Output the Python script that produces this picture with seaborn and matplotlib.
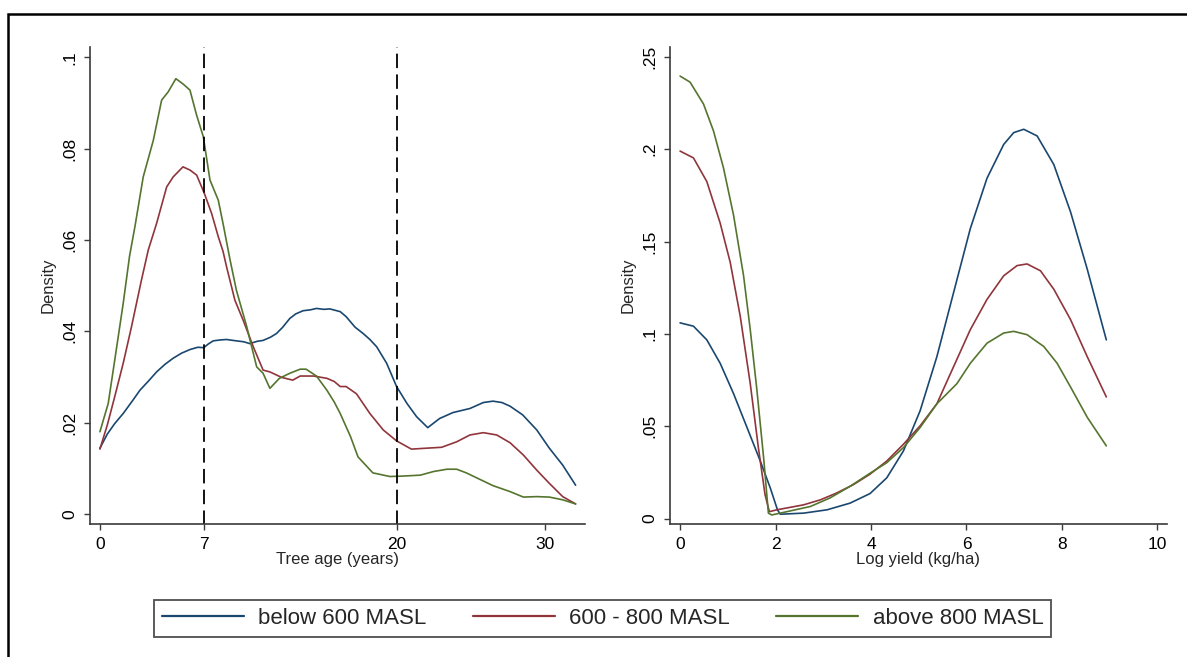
import matplotlib
matplotlib.use("Agg")
import matplotlib.pyplot as plt
import pandas as pd
import seaborn as sns
from matplotlib.patches import Rectangle

# --- data (kernel density curves) ---
GROUPS = ["below 600 MASL", "600 - 800 MASL", "above 800 MASL"]
COLORS = ["#1a476f", "#90353b", "#55752f"]

# Tree age densities
age_x_low = [0, 0.5, 1.0, 1.57, 2.2, 2.7, 3.3, 3.82, 4.4, 4.94, 5.5, 6.07, 6.6, 7.0, 7.3, 7.64,
             8.1, 8.54, 9.2, 9.7, 10.1, 10.6, 11.0, 11.5, 11.9, 12.3, 12.8, 13.2, 13.7, 14.2,
             14.6, 15.1, 15.5, 16.2, 16.6, 17.2, 17.75, 18.2, 18.66, 19.33, 20.0, 20.7, 21.35,
             22.1, 22.9, 23.8, 24.95, 25.85, 26.5, 27.1, 27.65, 28.5, 29.45, 30.3, 31.2, 32.07]
age_y_low = [0.0144, 0.0175, 0.0198, 0.022, 0.0248, 0.0271, 0.0292, 0.0311, 0.0328, 0.0341,
             0.0352, 0.036, 0.0365, 0.0364, 0.0372, 0.0379, 0.0381, 0.0382, 0.0379, 0.0377,
             0.0373, 0.0378, 0.038, 0.0387, 0.0395, 0.0408, 0.0428, 0.0438, 0.0445, 0.0447,
             0.045, 0.0448, 0.0449, 0.0443, 0.0432, 0.0409, 0.0395, 0.0382, 0.0366, 0.033,
             0.0279, 0.0242, 0.0213, 0.0189, 0.0209, 0.0222, 0.0231, 0.0244, 0.0247, 0.0244,
             0.0236, 0.0217, 0.0184, 0.0144, 0.0107, 0.0063]

age_x_mid = [0, 0.5, 1.0, 1.57, 2.13, 2.8, 3.26, 3.82, 4.5, 4.94, 5.3, 5.6, 6.07, 6.52, 7.04,
             7.53, 7.98, 8.3, 8.54, 9.1, 9.66, 10.34, 11.0, 11.46, 12.25, 13.0, 13.5, 14.4,
             15.3, 15.8, 16.2, 16.6, 17.3, 18.2, 19.1, 20.0, 21.0, 22.0, 23.04, 24.05, 24.95,
             25.85, 26.75, 27.65, 28.55, 29.45, 30.3, 31.2, 32.07]
age_y_mid = [0.0142, 0.0195, 0.0257, 0.033, 0.041, 0.0512, 0.0578, 0.0636, 0.0716, 0.0738,
             0.075, 0.076, 0.0753, 0.0742, 0.0702, 0.0658, 0.0607, 0.0575, 0.0541, 0.0468,
             0.0424, 0.0366, 0.0315, 0.0311, 0.0299, 0.0293, 0.0302, 0.0302, 0.0297, 0.029,
             0.0279, 0.0279, 0.0263, 0.022, 0.0184, 0.016, 0.0142, 0.0144, 0.0146, 0.0158,
             0.0173, 0.0178, 0.0173, 0.0156, 0.0129, 0.0096, 0.0067, 0.0038, 0.0022]

age_x_high = [0, 0.56, 1.0, 1.57, 2.0, 2.36, 2.92, 3.6, 4.16, 4.6, 5.12, 5.62, 6.07, 6.52, 6.97,
              7.42, 7.98, 8.3, 8.77, 9.2, 9.9, 10.2, 10.57, 11.0, 11.46, 12.1, 12.8, 13.5,
              13.9, 14.6, 15.3, 15.8, 16.2, 16.9, 17.4, 18.4, 19.55, 20.45, 21.6, 22.5, 23.4,
              24.05, 24.7, 25.6, 26.5, 27.65, 28.55, 29.45, 30.3, 31.2, 32.07]
age_y_high = [0.018, 0.0242, 0.0337, 0.0461, 0.0565, 0.0629, 0.0738, 0.0818, 0.0906, 0.0924,
              0.0953, 0.0941, 0.0928, 0.0873, 0.0826, 0.0731, 0.0687, 0.0636, 0.0557, 0.049,
              0.041, 0.037, 0.0322, 0.0308, 0.0275, 0.0297, 0.0308, 0.0317, 0.0317, 0.0302,
              0.0271, 0.0245, 0.022, 0.0169, 0.0125, 0.009, 0.0082, 0.0083, 0.0085, 0.0093,
              0.0098, 0.0098, 0.009, 0.0076, 0.0062, 0.0049, 0.0037, 0.0038, 0.0037, 0.0031,
              0.0022]

# Log yield densities
yld_x_low = [0, 0.28, 0.56, 0.84, 1.12, 1.4, 1.68, 1.89, 2.04, 2.1, 2.59, 3.08, 3.56, 3.98,
             4.33, 4.68, 5.03, 5.38, 5.73, 6.08, 6.43, 6.78, 6.99, 7.2, 7.48, 7.83, 8.18,
             8.53, 8.93]
yld_y_low = [0.106, 0.1042, 0.0968, 0.0841, 0.0677, 0.0495, 0.0312, 0.0166, 0.0048, 0.0024,
             0.003, 0.0048, 0.0084, 0.0136, 0.0221, 0.0367, 0.0585, 0.0877, 0.1224, 0.157,
             0.1843, 0.2026, 0.209, 0.2108, 0.2072, 0.1917, 0.1661, 0.1351, 0.0968]

yld_x_mid = [0, 0.28, 0.56, 0.84, 1.05, 1.26, 1.47, 1.64, 1.78, 1.87, 2.03, 2.59, 2.94, 3.28,
             3.63, 3.98, 4.33, 4.68, 5.03, 5.38, 5.73, 6.08, 6.43, 6.78, 7.06, 7.27, 7.55,
             7.83, 8.18, 8.53, 8.93]
yld_y_mid = [0.199, 0.1953, 0.1825, 0.16, 0.1388, 0.1096, 0.0731, 0.0385, 0.013, 0.0038,
             0.0048, 0.0075, 0.0102, 0.0139, 0.0184, 0.0241, 0.0312, 0.0403, 0.0503, 0.0622,
             0.0823, 0.1023, 0.1187, 0.1315, 0.137, 0.1379, 0.1342, 0.1242, 0.1078, 0.0877,
             0.0659]

yld_x_high = [0, 0.21, 0.49, 0.7, 0.91, 1.12, 1.33, 1.47, 1.61, 1.75, 1.85, 1.92, 2.24, 2.73,
              3.14, 3.56, 3.98, 4.33, 4.68, 5.03, 5.38, 5.8, 6.08, 6.43, 6.78, 6.99, 7.27,
              7.62, 7.9, 8.18, 8.53, 8.93]
yld_y_high = [0.2396, 0.2363, 0.2245, 0.2099, 0.1898, 0.1643, 0.1315, 0.1023, 0.0695, 0.033,
              0.003, 0.002, 0.0038, 0.0066, 0.0112, 0.0175, 0.0246, 0.0303, 0.0385, 0.0494,
              0.0622, 0.0731, 0.0841, 0.095, 0.1005, 0.1014, 0.0996, 0.0932, 0.0841, 0.0713,
              0.0549, 0.0394]

age_ticks = [0, 7, 20, 30]
age_cutoffs = [7, 20]
age_yticks = [0, 0.02, 0.04, 0.06, 0.08, 0.1]
age_yticklabels = ["0", ".02", ".04", ".06", ".08", ".1"]
yld_ticks = [0, 2, 4, 6, 8, 10]
yld_yticks = [0, 0.05, 0.1, 0.15, 0.2, 0.25]
yld_yticklabels = ["0", ".05", ".1", ".15", ".2", ".25"]


def long_frame(xs, ys):
    parts = []
    for g, x, y in zip(GROUPS, xs, ys):
        parts.append(pd.DataFrame({"x": x, "y": y, "group": g}))
    return pd.concat(parts, ignore_index=True)


age_df = long_frame([age_x_low, age_x_mid, age_x_high], [age_y_low, age_y_mid, age_y_high])
yld_df = long_frame([yld_x_low, yld_x_mid, yld_x_high], [yld_y_low, yld_y_mid, yld_y_high])

sns.set_style("ticks")
plt.rcParams["font.family"] = ["Liberation Sans", "DejaVu Sans"]
plt.rcParams["axes.edgecolor"] = "#3a3a3a"
plt.rcParams["xtick.color"] = "#3a3a3a"
plt.rcParams["ytick.color"] = "#3a3a3a"
plt.rcParams["xtick.labelcolor"] = "black"
plt.rcParams["ytick.labelcolor"] = "black"

fig = plt.figure(figsize=(11.87, 6.57), dpi=100)
ax1 = fig.add_axes([0.0758, 0.2024, 0.417, 0.7265])
ax2 = fig.add_axes([0.5641, 0.2024, 0.419, 0.7265])

palette = dict(zip(GROUPS, COLORS))
sns.lineplot(data=age_df, x="x", y="y", hue="group", palette=palette, estimator=None,
             linewidth=1.2, ax=ax1)
sns.lineplot(data=yld_df, x="x", y="y", hue="group", palette=palette, estimator=None,
             linewidth=1.2, ax=ax2, legend=False)

for c in age_cutoffs:
    ax1.axvline(c, color="black", linewidth=1.3, linestyle=(0.5, (8, 3.5)))

handles, labels = ax1.get_legend_handles_labels()
ax1.get_legend().remove()

# axes styling, Stata-like
ax1.set_xlim(-0.67, 32.7)
ax1.set_ylim(-0.0022, 0.1023)
ax1.set_xticks(age_ticks)
ax1.set_yticks(age_yticks)
ax1.set_yticklabels(age_yticklabels)
ax1.set_xlabel("Tree age (years)", fontsize=12, labelpad=0)
ax1.set_ylabel("Density", fontsize=12, labelpad=5)

ax2.set_xlim(-0.22, 10.2)
ax2.set_ylim(-0.0029, 0.2555)
ax2.set_xticks(yld_ticks)
ax2.set_yticks(yld_yticks)
ax2.set_yticklabels(yld_yticklabels)
ax2.set_xlabel("Log yield (kg/ha)", fontsize=12, labelpad=0)
ax2.set_ylabel("Density", fontsize=12, labelpad=5)

for ax in (ax1, ax2):
    sns.despine(ax=ax)
    ax.spines["left"].set_linewidth(1.2)
    ax.spines["bottom"].set_linewidth(1.2)
    ax.tick_params(axis="both", labelsize=12.5, length=4, width=1, pad=5)
    for lab in ax.get_yticklabels():
        lab.set_rotation(90)
        lab.set_va("center")

for h in handles:
    h.set_linewidth(1.6)
leg = fig.legend(handles, labels, loc="center", ncol=3, mode="expand",
                 bbox_to_anchor=(0.1297, 0.0274, 0.7558, 0.0624),
                 fontsize=16, handlelength=3.7, handletextpad=0.65, borderpad=0.35,
                 frameon=True, fancybox=False, borderaxespad=0)
leg.get_frame().set_edgecolor("#222222")
leg.get_frame().set_linewidth(1.3)

# outer frame (only top/left edges visible in the crop)
fig.add_artist(Rectangle((8 / 1187, -0.2), 1.2, (657 - 14) / 657 + 0.2,
                         transform=fig.transFigure, fill=False,
                         edgecolor="black", linewidth=1.8))

fig.savefig("out.png", dpi=100)
